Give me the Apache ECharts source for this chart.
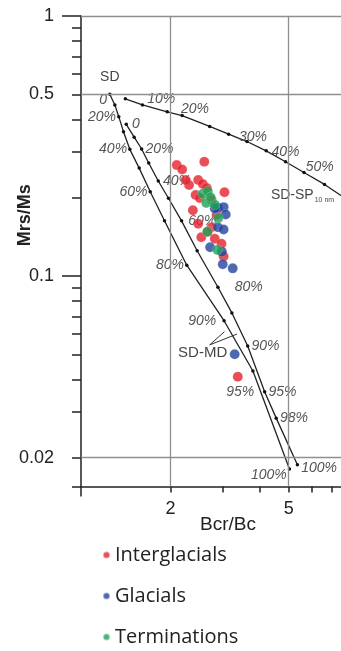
<!DOCTYPE html>
<html>
<head>
<meta charset="utf-8">
<script src="https://cdn.jsdelivr.net/npm/echarts@6/dist/echarts.min.js"></script>
<style>
html, body { margin: 0; padding: 0; background: #fff; }
#chart { width: 341px; height: 651px; }
</style>
</head>
<body>
<div id="chart"></div>
<script>
// Day plot: Bcr/Bc vs Mrs/Ms

// SD + MD mixing curve (starts at SD point)
const mixAx = [1.25, 1.30, 1.34, 1.39, 1.46, 1.57, 1.71, 1.91, 2.27, 3.03, 3.79, 5.03];
const mixAy = [0.5, 0.455, 0.41, 0.359, 0.307, 0.26, 0.211, 0.163, 0.110, 0.0673, 0.0431, 0.0181];
const mixAlbl = ['0', '', '20%', '', '40%', '', '60%', '', '80%', '90%', '95%', '100%'];

// second SD + MD mixing curve
const mixBx = [1.42, 1.51, 1.60, 1.69, 1.82, 1.97, 2.18, 2.46, 2.89, 3.22, 3.64, 4.15, 4.54, 5.35];
const mixBy = [0.383, 0.342, 0.308, 0.272, 0.232, 0.199, 0.163, 0.125, 0.0905, 0.0721, 0.0538, 0.0359, 0.0284, 0.0188];
const mixBlbl = ['0', '', '20%', '', '40%', '', '60%', '', '80%', '', '90%', '95%', '98%', '100%'];

// SD + SP (10 nm) mixing line
const spX = [1.41, 1.61, 1.95, 2.19, 2.71, 3.14, 3.62, 4.20, 4.88, 5.63, 6.60, 7.72];
const spY = [0.48, 0.455, 0.428, 0.414, 0.376, 0.351, 0.329, 0.303, 0.275, 0.250, 0.225, 0.1995];
const spLbl = ['', '10%', '', '20%', '', '', '30%', '', '40%', '50%', '', ''];

// pointer lines of the SD-MD note
const mdLeadX = [3.04, 2.71, 3.35];
const mdLeadY = [0.0611, 0.0543, 0.0598];

// samples
const interX = [2.10, 2.19, 2.60, 2.31, 2.48, 2.57, 2.65, 3.04, 2.38, 2.48, 2.54, 2.82, 3.02, 2.75, 2.43, 2.75, 2.86, 2.67, 2.97, 2.25, 2.51, 3.37];
const interY = [0.267, 0.257, 0.275, 0.224, 0.234, 0.226, 0.218, 0.210, 0.179, 0.159, 0.141, 0.139, 0.119, 0.154, 0.205, 0.196, 0.172, 0.148, 0.133, 0.234, 0.1995, 0.041];
const glacX = [2.89, 3.02, 3.07, 2.89, 3.02, 2.72, 2.98, 3.00, 3.24, 3.29, 2.82];
const glacY = [0.183, 0.184, 0.1725, 0.154, 0.151, 0.129, 0.124, 0.111, 0.107, 0.050, 0.182];
const termX = [2.57, 2.67, 2.64, 2.82, 2.90, 2.66, 2.88, 2.73];
const termY = [0.207, 0.212, 0.191, 0.188, 0.167, 0.148, 0.126, 0.201];

// axes
const xRange = [1, 7.5];
const yRange = [0.0155, 1];
const xTicks = [2, 3, 4, 5, 6, 7];
const xLabels = [2, 5];
const yMinorTicks = [0.0155, 0.02, 0.03, 0.04, 0.05, 0.06, 0.07, 0.08, 0.09, 0.2, 0.3, 0.4, 0.5, 0.6, 0.7, 0.8, 0.9];
const yMajorTicks = [0.1, 1];
const yLabels = [0.02, 0.1, 0.5, 1];
const xGrid = [2, 5];
const yGrid = [0.02, 0.5, 1];

const FONT = '"Liberation Sans", Arial, sans-serif';
const pctStyle = { fontFamily: FONT, fontStyle: 'italic', fontSize: 14, color: '#555' };

// label placement per curve (index -> tweak)
const mixAplace = { 0: { offset: [0, 6] }, 9: { distance: 6 }, 10: { offset: [4, 21] }, 11: { offset: [0, 6] } };
const mixBplace = { 0: { distance: 4 }, 4: { distance: 3 }, 6: { distance: 5 }, 8: { distance: 15 }, 13: { offset: [0, 3] } };
const spPlace = {
    1: { position: 'right', offset: [0, -6] },
    3: { position: 'right', offset: [-6, -6] },
    6: { position: 'top', offset: [6, 7] },
    8: { position: 'top', offset: [0, 2] },
    9: { position: 'right', offset: [-3, -5] },
};

function curveData(xs, ys, lbls, side, dist, place) {
    return xs.map((x, i) => {
        const item = { value: [x, ys[i]] };
        if (lbls[i]) {
            const t = place[i] || {};
            item.label = {
                show: true,
                formatter: lbls[i],
                position: t.position || side,
                distance: t.distance != null ? t.distance : dist,
                offset: t.offset || [0, 0],
            };
        }
        return item;
    });
}

function pts(xs, ys) {
    return xs.map((x, i) => [x, ys[i]]);
}

const curveBase = {
    type: 'line',
    symbol: 'circle',
    symbolSize: 3.5,
    showSymbol: true,
    clip: true,
    z: 1,
    itemStyle: { color: '#111' },
    lineStyle: { color: '#222', width: 1.3 },
    label: Object.assign({ show: false }, pctStyle),
    emphasis: { disabled: true },
};

const dotBase = {
    type: 'scatter',
    symbol: 'circle',
    symbolSize: 10,
    z: 3,
    emphasis: { disabled: true },
};

const chart = echarts.init(document.getElementById('chart'));

const option = {
    animation: false,
    backgroundColor: '#fff',
    grid: { left: 81, top: 16, width: 260, height: 470.5, containLabel: false, outerBoundsMode: 'none' },
    xAxis: [
        {
            type: 'log',
            logBase: 10,
            min: xRange[0],
            max: xRange[1],
            position: 'bottom',
            name: 'Bcr/Bc',
            nameLocation: 'middle',
            nameGap: 29,
            nameMoveOverlap: false,
            nameTextStyle: { fontFamily: FONT, fontSize: 19, color: '#222', padding: [0, 0, 0, 34] },
            axisLine: { show: true, lineStyle: { color: '#222', width: 1.5 } },
            axisTick: { show: true, customValues: xTicks, length: 6, lineStyle: { color: '#222', width: 1.5 } },
            axisLabel: { customValues: xLabels, fontFamily: FONT, fontSize: 18, color: '#222', margin: 14, formatter: v => String(v) },
            splitLine: { show: false },
            minorTick: { show: false },
        },
        {
            type: 'log',
            logBase: 10,
            min: xRange[0],
            max: xRange[1],
            position: 'bottom',
            axisLine: { show: false },
            axisTick: { show: true, customValues: [xRange[0]], length: 10, lineStyle: { color: '#222', width: 1.5 } },
            axisLabel: { show: false },
            splitLine: { show: false },
        },
    ],
    yAxis: [
        {
            type: 'log',
            logBase: 10,
            min: yRange[0],
            max: yRange[1],
            position: 'left',
            name: 'Mrs/Ms',
            nameLocation: 'middle',
            nameGap: 47,
            nameMoveOverlap: false,
            nameTextStyle: { fontFamily: FONT, fontSize: 18, fontWeight: 'bold', color: '#222', padding: [0, 0, 0, 72] },
            axisLine: { show: true, lineStyle: { color: '#222', width: 1.5 } },
            axisTick: { show: true, customValues: yMinorTicks, length: 9, lineStyle: { color: '#222', width: 1.5 } },
            axisLabel: { customValues: yLabels, fontFamily: FONT, fontSize: 18, color: '#222', margin: 27, formatter: v => String(v) },
            splitLine: { show: false },
        },
        {
            type: 'log',
            logBase: 10,
            min: yRange[0],
            max: yRange[1],
            position: 'left',
            axisLine: { show: false },
            axisTick: { show: true, customValues: yMajorTicks, length: 19, lineStyle: { color: '#222', width: 1.5 } },
            axisLabel: { show: false },
            splitLine: { show: false },
        },
    ],
    legend: {
        orient: 'vertical',
        left: 102,
        top: 545,
        padding: 0,
        icon: 'circle',
        itemWidth: 7,
        itemHeight: 7,
        itemGap: 21,
        selectedMode: false,
        textStyle: { fontFamily: '"Open Sans", sans-serif', fontSize: 20, color: '#222' },
        data: ['Interglacials', 'Glacials', 'Terminations'],
    },
    series: [
        Object.assign({}, curveBase, {
            name: 'SD-SP',
            data: curveData(spX, spY, spLbl, 'top', 3, spPlace),
            markLine: {
                silent: true,
                symbol: ['none', 'none'],
                label: { show: false },
                lineStyle: { color: '#8f8f8f', width: 1.3, type: 'solid' },
                data: xGrid.map(v => ({ xAxis: v })).concat(yGrid.map(v => ({ yAxis: v }))),
            },
        }),
        Object.assign({}, curveBase, {
            name: 'SD-MD a',
            data: curveData(mixAx, mixAy, mixAlbl, 'left', 1, mixAplace),
        }),
        Object.assign({}, curveBase, {
            name: 'SD-MD b',
            data: curveData(mixBx, mixBy, mixBlbl, 'right', 2, mixBplace),
        }),
        {
            type: 'line',
            name: 'SD-MD note',
            data: pts(mdLeadX, mdLeadY),
            symbol: 'none',
            z: 1,
            lineStyle: { color: '#333', width: 1 },
            emphasis: { disabled: true },
        },
        {
            type: 'scatter',
            name: 'notes',
            symbolSize: 0,
            z: 1,
            silent: true,
            label: { show: true, fontFamily: FONT, fontSize: 14, color: '#111' },
            data: [
                { value: [mixAx[0], mixAy[0]], label: { formatter: 'SD', position: 'top', offset: [0, -5] } },
                { value: [mdLeadX[1], mdLeadY[1]], label: { formatter: 'SD-MD', position: 'bottom', offset: [-7, -5], fontSize: 15 } },
                {
                    value: [spX[10], spY[10]],
                    label: {
                        formatter: '{a|SD-SP}{b|10 nm}',
                        position: 'bottom',
                        offset: [-22, -3],
                        rich: {
                            a: { fontFamily: FONT, fontSize: 14, color: '#111', lineHeight: 16 },
                            b: { fontFamily: FONT, fontSize: 7, color: '#111', padding: [10, 0, 0, 1] },
                        },
                    },
                },
            ],
        },
        Object.assign({}, dotBase, {
            name: 'Interglacials',
            itemStyle: { color: '#e5202a', borderColor: 'rgba(255,255,255,0.6)', borderWidth: 0.4 },
            data: pts(interX, interY),
        }),
        Object.assign({}, dotBase, {
            name: 'Glacials',
            itemStyle: { color: '#22449e', borderColor: 'rgba(255,255,255,0.6)', borderWidth: 0.4 },
            data: pts(glacX, glacY),
        }),
        Object.assign({}, dotBase, {
            name: 'Terminations',
            itemStyle: { color: '#1ca457', borderColor: 'rgba(255,255,255,0.6)', borderWidth: 0.4 },
            data: pts(termX, termY),
        }),
    ],
};

chart.setOption(option);
window.addEventListener('resize', () => chart.resize());
</script>
</body>
</html>
